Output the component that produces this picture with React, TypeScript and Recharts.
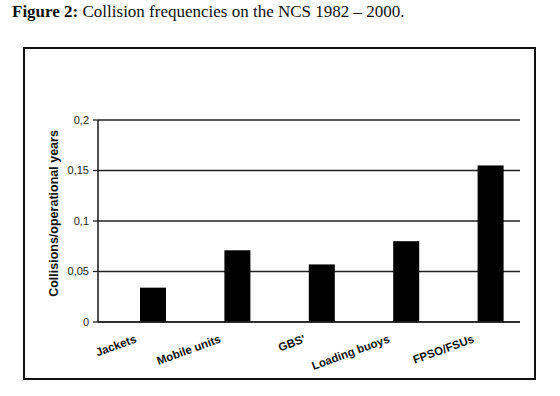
import React from 'react';
import { BarChart, Bar, XAxis, YAxis, CartesianGrid } from 'recharts';

const categories = ['Jackets', 'Mobile units', "GBS'", 'Loading buoys', 'FPSO/FSUs'];
const frequencies = [0.034, 0.071, 0.057, 0.08, 0.155];
const yTicks = [0, 0.05, 0.1, 0.15, 0.2];
const boundaryTicks = [0, 1, 2, 3, 4, 5];

const data = categories.map((name, i) => ({ name, value: frequencies[i] }));

const font = '"Liberation Sans", Arial, sans-serif';

const XTick = (props: any) => {
  const { x, y, payload } = props;
  return (
    <g transform={`translate(${x - 3},${y + 20})`}>
      <text
        x={0}
        y={0}
        textAnchor="end"
        transform="rotate(-20)"
        fontFamily={font}
        fontWeight="bold"
        fontSize={11.5}
        fill="#111"
      >
        {payload.value}
      </text>
    </g>
  );
};

const BarShape = (props: any) => {
  const { x, y, width, height } = props;
  return <rect x={x + width / 2} y={y} width={width} height={height} fill="#000" />;
};

const YLabel = (props: any) => {
  const { viewBox } = props;
  const cx = viewBox.x + 27.5;
  const cy = viewBox.y + viewBox.height / 2 - 7.5;
  return (
    <text
      x={cx}
      y={cy}
      textAnchor="middle"
      transform={`rotate(-90, ${cx}, ${cy})`}
      fontFamily={font}
      fontWeight="bold"
      fontSize={12.5}
      fill="#111"
    >
      Collisions/operational years
    </text>
  );
};

export default function App() {
  return (
    <div style={{ position: 'absolute', left: 0, top: 0, width: 560, height: 396, background: '#fff' }}>
      <div
        style={{
          position: 'absolute',
          left: 12,
          top: 3,
          fontFamily: '"Liberation Serif", "Times New Roman", serif',
          fontSize: 17,
          lineHeight: '18px',
          color: '#111',
          whiteSpace: 'nowrap',
        }}
      >
        <b>Figure 2:</b> Collision frequencies on the NCS 1982 – 2000.
      </div>
      <div
        style={{
          position: 'absolute',
          left: 23,
          top: 47,
          width: 513,
          height: 333,
          border: '2px solid #111',
          boxSizing: 'border-box',
        }}
      />
      <div style={{ position: 'absolute', left: 0, top: 0 }}>
        <BarChart
          width={560}
          height={396}
          data={data}
          margin={{ top: 120, right: 40, bottom: 34, left: 30 }}
          barSize={26}
        >
          <CartesianGrid horizontal vertical={false} stroke="#222" strokeWidth={1.6} />
          <XAxis
            xAxisId="bounds"
            type="number"
            domain={[0, 5]}
            ticks={boundaryTicks}
            height={0}
            axisLine={false}
            tickSize={4}
            tickLine={{ stroke: '#222', strokeWidth: 1.3 }}
            tickFormatter={() => ''}
            allowDataOverflow
          />
          <XAxis
            dataKey="name"
            height={40}
            axisLine={{ stroke: '#222', strokeWidth: 1.6 }}
            tickLine={false}
            tickSize={0}
            tickMargin={0}
            interval={0}
            tick={<XTick />}
          />
          <YAxis
            width={68}
            domain={[0, 0.2]}
            ticks={yTicks}
            axisLine={{ stroke: '#222', strokeWidth: 1.6 }}
            tickLine={{ stroke: '#222', strokeWidth: 1.3 }}
            tickSize={5}
            tickMargin={4}
            tick={{ fontFamily: font, fontSize: 11, fill: '#222' }}
            tickFormatter={(v: number) => String(v).replace('.', ',')}
            label={<YLabel />}
          />
          <Bar dataKey="value" fill="#000" isAnimationActive={false} shape={<BarShape />} />
        </BarChart>
      </div>
    </div>
  );
}
